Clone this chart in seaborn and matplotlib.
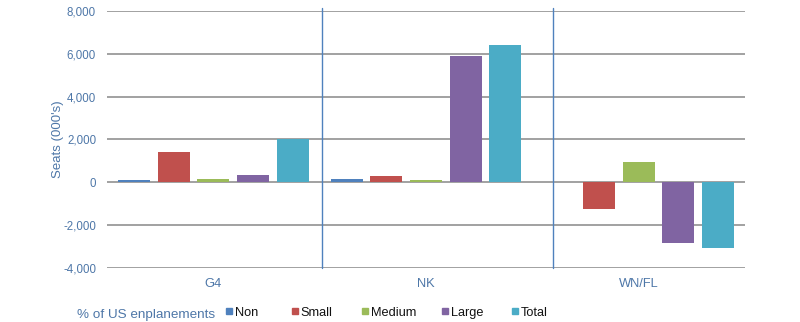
import matplotlib
matplotlib.use("Agg")
import matplotlib.pyplot as plt
import seaborn as sns
import pandas as pd

# Change in seats by carrier group and airport size
carriers = ["G4", "NK", "WN/FL"]
sizes = ["Non", "Small", "Medium", "Large", "Total"]
non_vals = [100, 140, 0]
small_vals = [1420, 280, -1230]
medium_vals = [140, 90, 950]
large_vals = [360, 5900, -2830]
total_vals = [2000, 6420, -3090]
y_ticks = [-4000, -2000, 0, 2000, 4000, 6000, 8000]

palette = ["#4F81BD", "#C0504D", "#9BBB59", "#8064A2", "#4BACC6"]
label_blue = "#4E77A8"

rows = []
for series_name, vals in zip(sizes, [non_vals, small_vals, medium_vals, large_vals, total_vals]):
    for c, v in zip(carriers, vals):
        rows.append({"carrier": c, "size": series_name, "seats": v})
df = pd.DataFrame(rows)

sns.set_theme(style="white")
plt.rcParams["font.family"] = ["Liberation Sans", "DejaVu Sans"]

fig = plt.figure(figsize=(8, 3.22), dpi=100)
ax = fig.add_axes([0.134, 0.168, 0.797, 0.798])

for t in y_ticks:
    ax.axhline(t, color="#9A9A9A", lw=1.3, zorder=0)

sns.barplot(data=df, x="carrier", y="seats", hue="size", order=carriers,
            hue_order=sizes, palette=palette, width=0.93, gap=0.19,
            saturation=1, linewidth=0, ax=ax, legend=False, zorder=2)

ax.set_xlim(-0.5, 2.5)
ax.set_ylim(-4000, 8000)
ax.set_yticks(y_ticks)
ax.set_yticklabels([f"{t:,}" for t in y_ticks], color=label_blue, fontsize=8.3)
ax.tick_params(axis="both", length=0)
ax.tick_params(axis="y", pad=8)
ax.tick_params(axis="x", pad=7)
ax.set_xticks(range(len(carriers)))
ax.set_xticklabels(carriers, color=label_blue, fontsize=9.3)
ax.set_xlabel("")
ax.set_ylabel("Seats (000's)", color=label_blue, fontsize=9.5, labelpad=-1)
for s in ax.spines.values():
    s.set_visible(False)

# carrier group separators
for xv in [0.509, 1.599]:
    ax.plot([xv, xv], [-4000, 8150], color="#4F81BD", lw=1.0, clip_on=False, zorder=1)

# legend row
fig.text(0.096, 0.012, "% of US enplanements", color=label_blue, fontsize=9.7)
legend_x = [0.283, 0.365, 0.453, 0.553, 0.64]
for lx, name, col in zip(legend_x, sizes, palette):
    fig.patches.append(plt.Rectangle((lx - 0.0005, 0.0255), 0.0075, 0.019,
                                     transform=fig.transFigure, color=col))
    fig.text(lx + 0.0108, 0.02, name, color="#111111", fontsize=9.2)

fig.savefig("out.png", dpi=100)
